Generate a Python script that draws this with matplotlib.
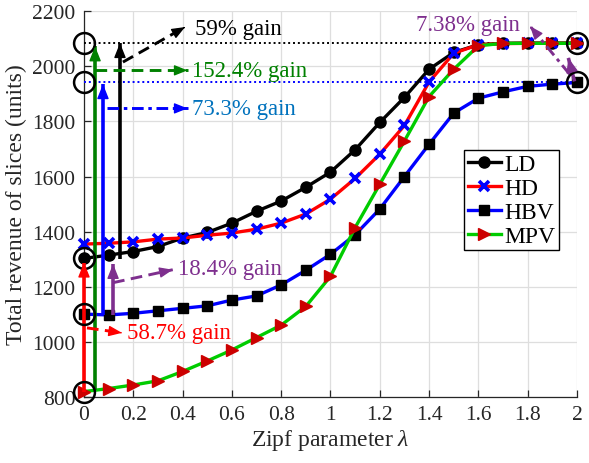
import numpy as np
import matplotlib
matplotlib.use("Agg")
import matplotlib.pyplot as plt

plt.rcParams["font.family"] = ["Liberation Serif", "DejaVu Serif"]
plt.rcParams["mathtext.fontset"] = "custom"
plt.rcParams["mathtext.rm"] = "Liberation Serif"
plt.rcParams["mathtext.it"] = "Liberation Serif:italic"

# Zipf parameter sweep
lam = [0.0, 0.1, 0.2, 0.3, 0.4, 0.5, 0.6, 0.7, 0.8, 0.9, 1.0,
       1.1, 1.2, 1.3, 1.4, 1.5, 1.6, 1.7, 1.8, 1.9, 2.0]

# Total revenue of slices per scheme
LD = [1303, 1315, 1328, 1346, 1377, 1397, 1431, 1474, 1511, 1561, 1616,
      1697, 1796, 1887, 1989, 2050, 2078, 2083, 2084, 2084, 2084]
HD = [1355, 1358, 1363, 1373, 1377, 1387, 1395, 1409, 1431, 1464, 1518,
      1593, 1681, 1785, 1943, 2047, 2078, 2082, 2083, 2083, 2083]
HBV = [1101, 1098, 1104, 1113, 1122, 1131, 1152, 1167, 1207, 1260, 1318,
       1389, 1482, 1600, 1717, 1830, 1884, 1907, 1927, 1935, 1941]
MPV = [820, 831, 844, 859, 893, 931, 971, 1016, 1061, 1129, 1238,
       1415, 1572, 1729, 1890, 1989, 2074, 2083, 2083, 2083, 2083]

series_names = ["LD", "HD", "HBV", "MPV"]
gain_labels = ["59% gain", "152.4% gain", "73.3% gain",
               "18.4% gain", "58.7% gain", "7.38% gain"]

xticks = [0, 0.2, 0.4, 0.6, 0.8, 1, 1.2, 1.4, 1.6, 1.8, 2]
xtick_labels = ["0", "0.2", "0.4", "0.6", "0.8", "1", "1.2", "1.4", "1.6", "1.8", "2"]
yticks = [800, 1000, 1200, 1400, 1600, 1800, 2000, 2200]

PURPLE = "#7E2F8E"
DKGREEN = "#008000"
MBLUE = "#0072BD"
TXT = "#262626"

fig = plt.figure(figsize=(5.89, 4.64), dpi=100)
ax = fig.add_axes([0.1426, 0.142, 0.837, 0.832])

ax.set_xlim(0, 2)
ax.set_ylim(800, 2200)

ax.grid(True, color="#DEDEDE", linewidth=0.9)
ax.set_axisbelow(True)
for s in ["top", "right"]:
    ax.spines[s].set_visible(False)
for s in ["left", "bottom"]:
    ax.spines[s].set_color(TXT)
    ax.spines[s].set_linewidth(0.9)

ax.set_xticks(xticks)
ax.set_xticklabels(xtick_labels)
ax.set_yticks(yticks)
ax.tick_params(direction="in", length=5, width=0.9, colors=TXT,
               labelsize=15.5, pad=6)
ax.set_xlabel(r"Zipf parameter $\lambda$", fontsize=17, color=TXT, labelpad=2)
ax.set_ylabel("Total revenue of slices (units)", fontsize=17, color=TXT, labelpad=4)

lw = 2.4
h_ld, = ax.plot(lam, LD, color="black", lw=lw, marker="o", ms=8,
                mfc="black", mec="black", clip_on=False, zorder=5)
h_hd, = ax.plot(lam, HD, color="#FF0000", lw=lw, marker="x", ms=7.5,
                mec="#0000FF", mew=2.6, clip_on=False, zorder=6)
h_hbv, = ax.plot(lam, HBV, color="#0000FF", lw=lw, marker="s", ms=7,
                 mfc="black", mec="black", clip_on=False, zorder=5)
h_mpv, = ax.plot(lam, MPV, color="#00CC00", lw=lw, marker=">", ms=9,
                 mfc="#CC0000", mec="#CC0000", clip_on=False, zorder=6)

ld_max = max(LD)
hbv_max = max(HBV)

# Reference levels at the saturated revenues
ax.plot([0, 2], [ld_max, ld_max], color="black", ls=(0, (1, 1.5)), lw=1.4, zorder=3)
ax.plot([0, 2], [hbv_max, hbv_max], color="#0000FF", ls=(0, (1, 1.5)), lw=1.4, zorder=3)

# Highlight circles
for (cx, cy) in [(0, LD[0]), (0, HBV[0]), (0, MPV[0]), (0, ld_max), (0, hbv_max),
                 (2, LD[-1]), (2, HBV[-1])]:
    ax.plot(cx, cy, marker="o", ms=15, mfc="none", mec="black", mew=1.8,
            clip_on=False, zorder=8)


def arrow(p0, p1, color, ls="-", lw=2.6, hl=0.9, hw=0.36):
    """Straight arrow from p0 to p1; the shaft may be dashed, head solid."""
    ax.plot([p0[0], p1[0]], [p0[1], p1[1]], color=color, lw=lw, ls=ls,
            solid_capstyle="butt", dash_capstyle="butt", zorder=7, clip_on=False)
    d = (p1[0] - p0[0], p1[1] - p0[1])
    q = (p1[0] - 0.02 * d[0], p1[1] - 0.02 * d[1])
    ax.annotate("", xy=p1, xytext=q,
                arrowprops=dict(arrowstyle=f"-|>,head_length={hl},head_width={hw}",
                                color=color, lw=1.0, shrinkA=0, shrinkB=0,
                                mutation_scale=10),
                zorder=9, annotation_clip=False)


# Vertical gain arrows
arrow((0, MPV[0]), (0, LD[0] - 15), "#FF0000")
x_g = 0.045
arrow((x_g, float(np.interp(x_g, lam, MPV))), (x_g, ld_max - 12), DKGREEN)
x_b = 0.077
arrow((x_b, float(np.interp(x_b, lam, HBV))), (x_b, hbv_max - 6), "#0000FF")
x_k = 0.146
arrow((x_k, 1300), (x_k, ld_max), "black")
x_p = 0.118
arrow((x_p, float(np.interp(x_p, lam, HBV))), (x_p, LD[0] - 20), PURPLE)
arrow((1.99, HBV[-1] + 4), (1.965, 2030), PURPLE)

# Dashed pointers to the gain labels
dash = (0, (4, 2.2))
dashdot = (0, (4, 1.6, 1.2, 1.6))
kw = dict(lw=2.1, hl=0.8, hw=0.32)
arrow((0.158, 2015), (0.41, 2142), "black", ls=dash, **kw)
arrow((0.045, 1985), (0.42, 1985), DKGREEN, ls=dash, **kw)
arrow((0.093, 1847), (0.42, 1847), "#0000FF", ls=dashdot, **kw)
arrow((0.118, 1215), (0.36, 1262), PURPLE, ls=dash, **kw)
arrow((0.012, 1051), (0.154, 1033), "#FF0000", ls=dash, **kw)
arrow((1.97, 1971), (1.81, 2145), PURPLE, ls=dashdot, **kw)

fs = 16.5
ax.text(0.45, 2137, gain_labels[0], color="black", fontsize=fs, va="center", ha="left")
ax.text(0.44, 1985, gain_labels[1], color=DKGREEN, fontsize=fs, va="center", ha="left")
ax.text(0.44, 1847, gain_labels[2], color=MBLUE, fontsize=fs, va="center", ha="left")
ax.text(0.38, 1265, gain_labels[3], color=PURPLE, fontsize=fs, va="center", ha="left")
ax.text(0.175, 1033, gain_labels[4], color="#FF0000", fontsize=fs, va="center", ha="left")
ax.text(1.77, 2153, gain_labels[5], color=PURPLE, fontsize=fs, va="center", ha="right")

leg = ax.legend([h_ld, h_hd, h_hbv, h_mpv], series_names, loc="upper right",
                bbox_to_anchor=(0.9635, 0.64), fontsize=17, frameon=True,
                fancybox=False, edgecolor="black", framealpha=1,
                handlelength=1.4, handletextpad=0.15, labelspacing=0.1,
                borderpad=0.15, borderaxespad=0)
leg.get_frame().set_linewidth(1.0)
leg.set_zorder(10)

fig.savefig("out.png", dpi=100)
